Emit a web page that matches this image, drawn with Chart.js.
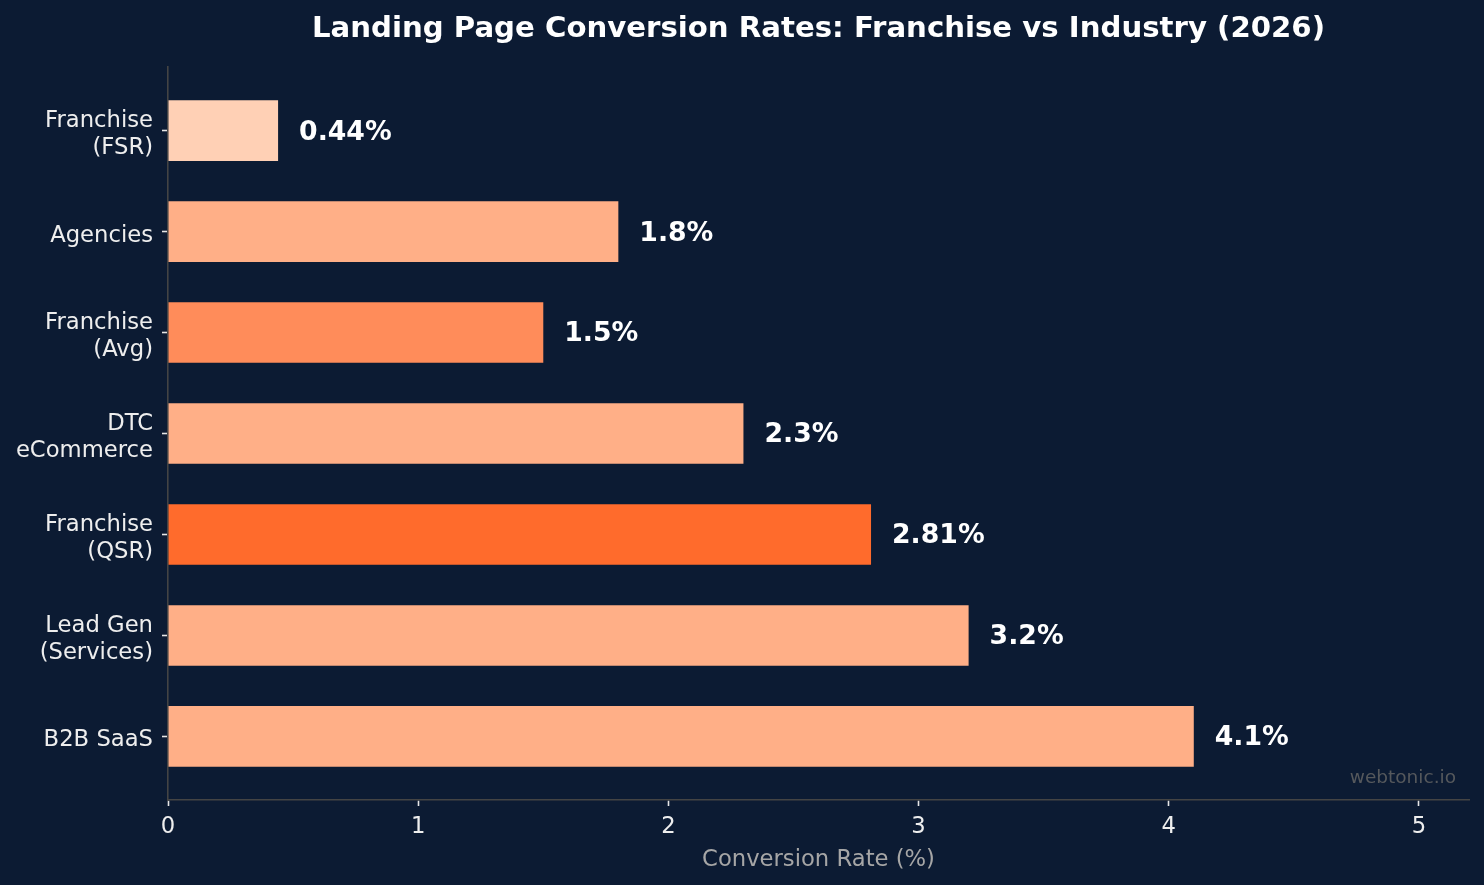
<!DOCTYPE html>
<html>
<head>
<meta charset="utf-8">
<script src="https://cdn.jsdelivr.net/npm/chart.js@4/dist/chart.umd.min.js"></script>
<style>
  html, body { margin: 0; padding: 0; background: #0c1b33; }
  #wrap { width: 1484px; height: 885px; }
</style>
</head>
<body>
<div id="wrap"><canvas id="chart"></canvas></div>
<script>
const categories = [
  ['Franchise', '(FSR)'],
  ['Agencies'],
  ['Franchise', '(Avg)'],
  ['DTC', 'eCommerce'],
  ['Franchise', '(QSR)'],
  ['Lead Gen', '(Services)'],
  ['B2B SaaS']
]
const rates = [0.44, 1.8, 1.5, 2.3, 2.81, 3.2, 4.1]
const rateLabels = ['0.44%', '1.8%', '1.5%', '2.3%', '2.81%', '3.2%', '4.1%']
const barColors = ['#ffd0b5', '#ffaf87', '#ff8c5a', '#ffaf87', '#ff6b2c', '#ffaf87', '#ffaf87']
const xTicks = [0, 1, 2, 3, 4, 5]

const FONT = "'DejaVu Sans', sans-serif"

const valueLabels = {
  id: 'valueLabels',
  afterDatasetsDraw(chart){
    const ctx = chart.ctx
    const meta = chart.getDatasetMeta(0)
    ctx.save()
    ctx.fillStyle = '#ffffff'
    ctx.font = 'bold 26.7px ' + FONT
    ctx.textAlign = 'left'
    ctx.textBaseline = 'middle'
    meta.data.forEach((bar, i) => {
      ctx.fillText(rateLabels[i], bar.x + 21, bar.y + 2)
    })
    ctx.restore()
  }
}

const watermark = {
  id: 'watermark',
  afterDraw(chart){
    const ctx = chart.ctx
    const area = chart.chartArea
    ctx.save()
    ctx.fillStyle = '#55585c'
    ctx.font = '18.5px ' + FONT
    ctx.textAlign = 'right'
    ctx.textBaseline = 'middle'
    ctx.fillText('webtonic.io', area.right - 13, area.bottom - 22)
    ctx.restore()
  }
}

const bg = {
  id: 'bg',
  beforeDraw(chart){
    const ctx = chart.ctx
    ctx.save()
    ctx.fillStyle = '#0c1b33'
    ctx.fillRect(0, 0, chart.width, chart.height)
    ctx.restore()
  }
}

const ctx = document.getElementById('chart').getContext('2d')
new Chart(ctx, {
  type: 'bar',
  data: {
    datasets: [{
      data: rates.map((v, i) => ({ x: v, y: i })),
      backgroundColor: barColors,
      borderWidth: 0,
      categoryPercentage: 1,
      barPercentage: 0.6
    }]
  },
  options: {
    indexAxis: 'y',
    responsive: true,
    maintainAspectRatio: false,
    animation: false,
    layout: { padding: { left: 0, right: 15, top: 0, bottom: 0 } },
    plugins: {
      legend: { display: false },
      tooltip: { enabled: false },
      title: {
        display: true,
        fullSize: false,
        text: 'Landing Page Conversion Rates: Franchise vs Industry (2026)',
        color: '#ffffff',
        font: { family: FONT, size: 29.2, weight: 'bold' },
        padding: { top: 11.5, bottom: 20.5 }
      }
    },
    scales: {
      x: {
        type: 'linear',
        min: 0,
        max: 5.2,
        afterBuildTicks(scale){
          scale.ticks = xTicks.map(v => ({ value: v }))
        },
        afterFit(scale){ scale.height = 85 },
        ticks: {
          color: '#eeeeee',
          font: { family: FONT, size: 22.7 },
          padding: 7.5,
          maxRotation: 0
        },
        grid: { drawOnChartArea: false, drawTicks: true, tickLength: 6, tickColor: '#e6e6e6', tickWidth: 1.6 },
        border: { display: true, color: '#444444', width: 1.6 },
        title: {
          display: true,
          text: 'Conversion Rate (%)',
          color: '#a6a6a6',
          font: { family: FONT, size: 22.7 },
          padding: { top: 2, bottom: 11.5 }
        }
      },
      y: {
        type: 'linear',
        reverse: true,
        offset: false,
        min: -0.63,
        max: 6.63,
        afterBuildTicks(scale){
          scale.ticks = categories.map((c, i) => ({ value: i }))
        },
        afterFit(scale){ scale.width = 168 },
        ticks: {
          color: '#eeeeee',
          font: { family: FONT, size: 22.7 },
          padding: 9,
          labelOffset: 4,
          callback: (v) => categories[v]
        },
        grid: { offset: false, drawOnChartArea: false, drawTicks: true, tickLength: 6, tickColor: '#e6e6e6', tickWidth: 1.6 },
        border: { display: true, color: '#444444', width: 1.6 }
      }
    }
  },
  plugins: [bg, valueLabels, watermark]
})
</script>
</body>
</html>
